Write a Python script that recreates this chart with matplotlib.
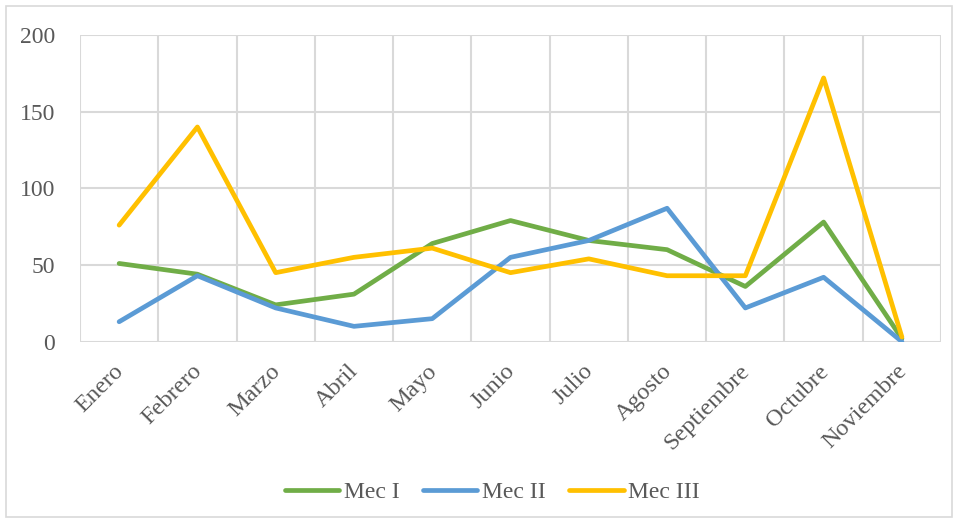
import matplotlib
matplotlib.use("Agg")
import matplotlib.pyplot as plt
import matplotlib.transforms as mtransforms
from matplotlib.patches import Rectangle

# datos
meses = ["Enero", "Febrero", "Marzo", "Abril", "Mayo", "Junio", "Julio",
         "Agosto", "Septiembre", "Octubre", "Noviembre"]
mec_1 = [51, 44, 24, 31, 64, 79, 66, 60, 36, 78, 2]
mec_2 = [13, 43, 22, 10, 15, 55, 66, 87, 22, 42, 0]
mec_3 = [76, 140, 45, 55, 61, 45, 54, 43, 43, 172, 3]
y_ticks = [0, 50, 100, 150, 200]

GRID = "#D9D9D9"
TEXT = "#595959"

plt.rcParams['font.family'] = ['Liberation Serif', 'DejaVu Serif']

fig = plt.figure(figsize=(9.58, 5.23), dpi=100)
ax = fig.add_axes([0.0835, 0.3467, 0.8988, 0.5864])

x = list(range(len(meses)))
ax.plot(x, mec_1, color="#70AD47", lw=3.4, label="Mec I", solid_capstyle="round", solid_joinstyle="round")
ax.plot(x, mec_2, color="#5B9BD5", lw=3.4, label="Mec II", solid_capstyle="round", solid_joinstyle="round")
ax.plot(x, mec_3, color="#FFC000", lw=3.4, label="Mec III", solid_capstyle="round", solid_joinstyle="round")

ax.set_xlim(-0.5, len(meses) - 0.5)
ax.set_ylim(0, 200)
ax.set_yticks(y_ticks)
ax.set_yticklabels([str(v) for v in y_ticks], fontsize=17, color=TEXT)

# líneas verticales entre categorías
ax.set_xticks([i - 0.5 for i in range(len(meses) + 1)], minor=True)
ax.set_xticks(x)
ax.set_xticklabels(meses, fontsize=17.5, color=TEXT, rotation=45,
                   ha="right", va="top", rotation_mode="anchor")
ax.grid(True, which="minor", axis="x", color=GRID, lw=1.5)
ax.grid(True, which="major", axis="y", color=GRID, lw=1.5)
ax.set_axisbelow(True)
ax.tick_params(which="both", length=0)
ax.tick_params(axis="y", pad=18)
ax.tick_params(axis="x", pad=8)
for s in ax.spines.values():
    s.set_visible(False)

# mover etiquetas un poco a la izquierda y abajo, como en Excel
off = mtransforms.ScaledTranslation(-6 / 100, -8 / 100, fig.dpi_scale_trans)
for lbl in ax.get_xticklabels():
    lbl.set_transform(lbl.get_transform() + off)

fig.legend(loc="center", bbox_to_anchor=(0.514, 0.058), ncol=3, frameon=False,
           fontsize=17, handlelength=2.3, handletextpad=0.2, columnspacing=1.0,
           labelcolor=TEXT)

# borde del gráfico
fig.patches.append(Rectangle((6 / 958, 6 / 523), 946 / 958, 511 / 523,
                             transform=fig.transFigure, fill=False,
                             edgecolor=GRID, lw=1.2))

fig.savefig("out.png", dpi=100)
